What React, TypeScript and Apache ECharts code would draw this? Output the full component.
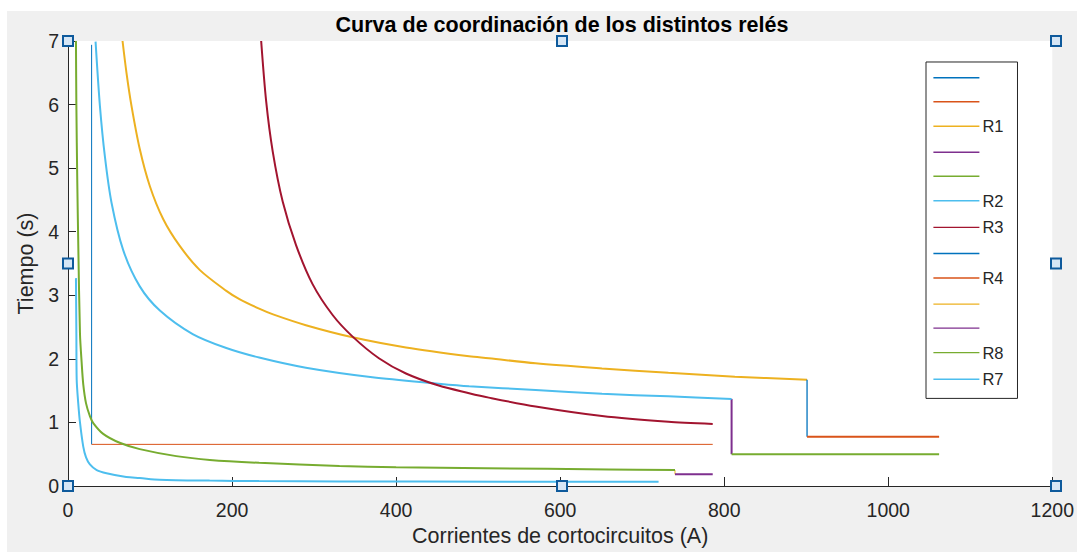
import React, { useEffect, useRef } from "react";
import * as echarts from "echarts";

// ---- Data ----
const xTicks = [0, 200, 400, 600, 800, 1000, 1200];
const yTicks = [0, 1, 2, 3, 4, 5, 6, 7];

const seriesNames = ["s1", "s2", "s3", "s4", "s5", "s6", "s7", "s8", "s9", "s10", "s11", "s12", "s13"];
const legendLabels = ["", "", "R1", "", "", "R2", "R3", "", "R4", "", "", "R8", "R7"];

// step / straight segments
const blueVert1 = [[28.8, 6.94], [28.8, 0.655]];
const orangeHoriz1 = [[28.8, 0.655], [786, 0.655]];
const purpleVert = [[809, 1.37], [809, 0.5]];
const greenHoriz = [[809, 0.5], [1062, 0.5]];
const blueVert2 = [[901, 1.67], [901, 0.776]];
const orangeHoriz2 = [[901, 0.776], [1062, 0.776]];
const yellowVert = [[740, 0.25], [740, 0.185]];
const purpleHoriz = [[740, 0.185], [786, 0.185]];

// relay curves (current A, time s)
const r1Curve = [
  [66.5, 7.0], [71.3, 6.5], [77.4, 5.98], [87.5, 5.3], [99.7, 4.72], [116, 4.2],
  [136, 3.78], [160.5, 3.4], [193, 3.07], [209, 2.94], [233, 2.79], [250, 2.7],
  [290, 2.53], [347, 2.34], [412, 2.18], [489, 2.04], [513, 2.01], [570, 1.93],
  [651, 1.85], [732, 1.78], [813, 1.72], [901, 1.67],
];
const r2Curve = [
  [33.6, 6.99], [38.9, 5.98], [45, 5.18], [53, 4.46], [67.3, 3.71], [87.5, 3.14],
  [112, 2.76], [152, 2.39], [193, 2.17], [233, 2.02], [290, 1.86], [371, 1.71],
  [452, 1.61], [489, 1.57], [570, 1.51], [651, 1.45], [732, 1.41], [809, 1.37],
];
const r3Curve = [
  [235.5, 7.0], [241.6, 6.05], [249.6, 5.26], [261.8, 4.47], [278, 3.79], [298, 3.18],
  [322.6, 2.69], [347, 2.35], [379, 2.01], [412, 1.77], [452, 1.58], [489, 1.46],
  [513, 1.39], [570, 1.25], [651, 1.1], [732, 1.01], [786, 0.975],
];
const r8Curve = [
  [9.7, 7.0], [10.2, 6.0], [11.3, 4.8], [12.6, 3.74], [14.6, 2.4], [16.6, 1.95],
  [18.6, 1.6], [22, 1.3], [26.7, 1.1], [30.8, 0.99], [42.9, 0.82], [63, 0.68],
  [87.5, 0.58], [132, 0.47], [173, 0.41], [233, 0.365], [331, 0.315], [400, 0.295],
  [509, 0.28], [659, 0.26], [740, 0.25],
];
const r7Curve = [
  [9.7, 3.27], [10.2, 2.4], [10.6, 1.67], [12.5, 1.3], [14.6, 1.0], [18.6, 0.62],
  [22, 0.45], [26.7, 0.34], [35, 0.25], [47, 0.2], [71, 0.14], [87.5, 0.125],
  [111.5, 0.1], [172.6, 0.085], [233, 0.077], [428, 0.07], [720, 0.065],
];

const seriesData = [
  blueVert1, orangeHoriz1, r1Curve, purpleVert, greenHoriz, r2Curve, r3Curve,
  blueVert2, orangeHoriz2, yellowVert, purpleHoriz, r8Curve, r7Curve,
];
const seriesColors = [
  "#0072BD", "#D95319", "#EDB120", "#7E2F8E", "#77AC30", "#4DBEEE", "#A2142F",
  "#0072BD", "#D95319", "#EDB120", "#7E2F8E", "#77AC30", "#4DBEEE",
];
const seriesWidths = [1, 1, 2, 2, 2, 2, 2, 1.3, 2, 1, 2, 2, 2];
const seriesSmooth = [false, false, true, false, false, true, true, false, false, false, false, true, true];

const FONT = "'Liberation Sans', Arial, Helvetica, sans-serif";
const INK = "#262626";

export default function App() {
  const ref = useRef<HTMLDivElement>(null);

  useEffect(() => {
    if (!ref.current) return;
    const chart = echarts.init(ref.current, null, { renderer: "svg" });

    const gridLeft = 68;
    const gridTop = 41;
    const gridRight = 1056;
    const gridBottom = 486;
    const midX = (gridLeft + gridRight) / 2;
    const midY = (gridTop + gridBottom) / 2;
    const handles = [
      [gridLeft, gridTop], [midX, gridTop], [gridRight, gridTop],
      [gridLeft, midY], [gridRight, midY],
      [gridLeft, gridBottom], [midX, gridBottom], [gridRight, gridBottom],
    ].map(([cx, cy]) => ({
      type: "rect",
      z: 100,
      shape: { x: cx - 5, y: cy - 5, width: 10, height: 10 },
      style: { fill: "#d6e6f5", stroke: "#0e5a9c", lineWidth: 2 },
    }));

    const labelMap: Record<string, string> = {};
    seriesNames.forEach((n, i) => (labelMap[n] = legendLabels[i]));

    chart.setOption({
      animation: false,
      backgroundColor: "#f0f0f0",
      textStyle: { fontFamily: FONT },
      title: {
        text: "Curva de coordinación de los distintos relés",
        left: midX,
        top: 14,
        padding: 0,
        textAlign: "center",
        textStyle: { fontFamily: FONT, fontSize: 21.5, fontWeight: "bold", color: "#000" },
      },
      grid: {
        left: gridLeft,
        top: gridTop,
        right: 1077 - gridRight,
        bottom: 552 - gridBottom,
        show: true,
        backgroundColor: "#ffffff",
        borderWidth: 0,
      },
      legend: {
        orient: "vertical",
        left: 926,
        top: 62,
        padding: [7.7, 14, 10.7, 6.7],
        itemWidth: 46,
        itemHeight: 16,
        itemGap: 9.6,
        backgroundColor: "#ffffff",
        borderColor: INK,
        borderWidth: 1,
        borderRadius: 0,
        data: seriesNames,
        formatter: (name: string) => labelMap[name] ?? "",
        textStyle: { fontFamily: FONT, fontSize: 16.5, color: INK, padding: [0, 0, 0, -2] },
        itemStyle: { opacity: 0 },
        lineStyle: { width: 1.4 },
      },
      xAxis: {
        type: "value",
        min: xTicks[0],
        max: xTicks[xTicks.length - 1],
        interval: xTicks[1] - xTicks[0],
        name: "Corrientes de cortocircuitos (A)",
        nameLocation: "middle",
        nameGap: 39,
        nameTextStyle: { fontFamily: FONT, fontSize: 21.5, color: INK },
        axisLine: { show: true, onZero: false, lineStyle: { color: INK, width: 1 } },
        axisTick: { show: true, inside: true, length: 9, lineStyle: { color: INK } },
        axisLabel: {
          fontFamily: FONT, fontSize: 19.5, color: INK, margin: 14,
          formatter: (v: number) => String(v),
        },
        splitLine: { show: false },
      },
      yAxis: {
        type: "value",
        min: yTicks[0],
        max: yTicks[yTicks.length - 1],
        interval: yTicks[1] - yTicks[0],
        name: "Tiempo (s)",
        nameLocation: "middle",
        nameGap: 27,
        nameTextStyle: { fontFamily: FONT, fontSize: 21.5, color: INK },
        axisLine: { show: true, onZero: false, lineStyle: { color: INK, width: 1 } },
        axisTick: { show: true, inside: true, length: 8, lineStyle: { color: INK } },
        axisLabel: {
          fontFamily: FONT, fontSize: 19.5, color: INK, margin: 9,
          formatter: (v: number) => String(v),
        },
        splitLine: { show: false },
      },
      graphic: [
        { type: "rect", z: 100, shape: { x: 0, y: 0, width: 1077, height: 11 }, style: { fill: "#ffffff" } },
        { type: "rect", z: 100, shape: { x: 0, y: 0, width: 7, height: 552 }, style: { fill: "#ffffff" } },
        ...handles,
      ],
      series: seriesNames.map((name, i) => ({
        name,
        type: "line",
        data: seriesData[i],
        symbol: "none",
        showSymbol: false,
        smooth: seriesSmooth[i] ? 0.3 : false,
        color: seriesColors[i],
        lineStyle: { color: seriesColors[i], width: seriesWidths[i] },
        clip: true,
      })),
    });

    return () => chart.dispose();
  }, []);

  return (
    <div
      ref={ref}
      style={{ position: "fixed", left: 0, top: 0, width: 1077, height: 552 }}
    />
  );
}
